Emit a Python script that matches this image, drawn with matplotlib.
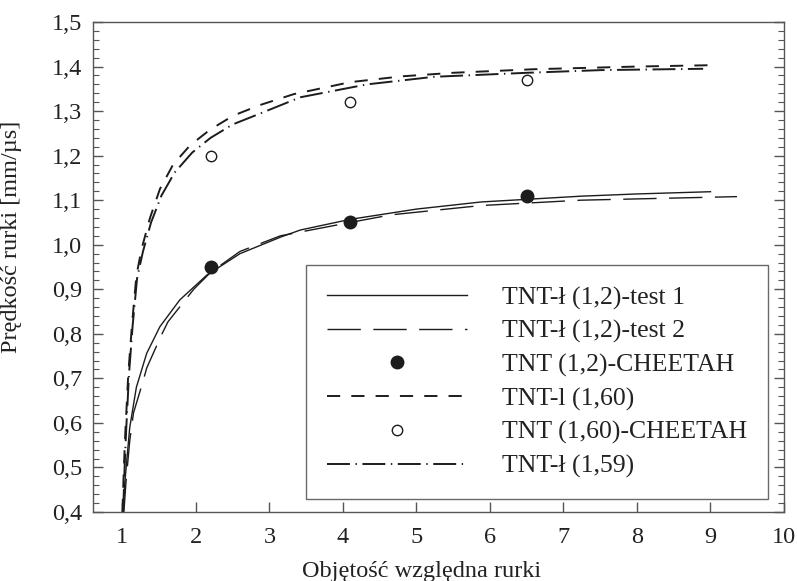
import matplotlib
matplotlib.use("Agg")
import matplotlib.pyplot as plt
import matplotlib.ticker as mtick

# font for all text
plt.rcParams['font.family'] = ['Liberation Serif', 'DejaVu Serif']
plt.rcParams['lines.scale_dashes'] = False

# data
x_test1 = [1.01, 1.03, 1.06, 1.10, 1.19, 1.33, 1.51, 1.78, 2.15, 2.6, 3.15, 3.42,
           4.1, 5.0, 5.88, 6.51, 7.24, 8.0, 9.0]
y_test1 = [0.40, 0.46, 0.517, 0.59, 0.68, 0.756, 0.816, 0.876, 0.932, 0.98, 1.017, 1.033,
           1.057, 1.08, 1.096, 1.102, 1.109, 1.114, 1.119]

x_test2 = [1.02, 1.05, 1.10, 1.15, 1.28, 1.33, 1.53, 1.62, 1.97, 2.2, 2.6, 3.15,
           4.1, 4.65, 5.88, 7.24, 8.3, 9.36]
y_test2 = [0.40, 0.47, 0.56, 0.622, 0.693, 0.723, 0.797, 0.827, 0.90, 0.938, 0.985, 1.02,
           1.05, 1.067, 1.088, 1.10, 1.104, 1.108]

x_cheetah_12 = [2.2, 4.1, 6.5]
y_cheetah_12 = [0.95, 1.05, 1.11]

x_160 = [1.0, 1.02, 1.04, 1.08, 1.13, 1.19, 1.26, 1.375, 1.51, 1.69, 1.92, 2.19, 2.51,
         2.88, 3.33, 4.1, 4.8, 5.5, 6.6, 8.0, 9.0]
y_160 = [0.40, 0.50, 0.58, 0.71, 0.82, 0.93, 0.99, 1.06, 1.125, 1.18, 1.223, 1.258, 1.29,
         1.314, 1.338, 1.365, 1.378, 1.386, 1.394, 1.400, 1.403]

x_cheetah_160 = [2.2, 4.1, 6.5]
y_cheetah_160 = [1.20, 1.32, 1.37]

x_159 = [1.01, 1.03, 1.05, 1.09, 1.14, 1.20, 1.28, 1.39, 1.53, 1.71, 1.95, 2.2, 2.5,
         2.88, 3.42, 4.33, 5.24, 6.51, 7.51, 8.9]
y_159 = [0.40, 0.50, 0.58, 0.71, 0.82, 0.925, 0.985, 1.05, 1.11, 1.162, 1.207, 1.24, 1.27,
         1.295, 1.331, 1.36, 1.377, 1.386, 1.392, 1.395]

labels = ['TNT-ł (1,2)-test 1', 'TNT-ł (1,2)-test 2', 'TNT (1,2)-CHEETAH',
          'TNT-l (1,60)', 'TNT (1,60)-CHEETAH', 'TNT-ł (1,59)']

x_ticks = [1, 2, 3, 4, 5, 6, 7, 8, 9, 10]
y_ticks = [0.4, 0.5, 0.6, 0.7, 0.8, 0.9, 1.0, 1.1, 1.2, 1.3, 1.4, 1.5]

ink = '#1c1c1c'
fs = 17.5       # ticks and axis labels
fs_leg = 18.5   # legend

fig = plt.figure(figsize=(7.97, 5.81), dpi=100)
ax = fig.add_axes([93/797, 1 - 512/581, (784 - 93)/797, (512 - 22)/581])

ax.plot(x_test1, y_test1, color=ink, lw=1.0, label=labels[0])
ax.plot(x_test2, y_test2, color=ink, lw=1.0, dashes=(24, 9), label=labels[1])
ax.plot(x_cheetah_12, y_cheetah_12, 'o', color=ink, ms=9, label=labels[2])
ax.plot(x_160, y_160, color=ink, lw=1.4, dashes=(9.5, 8), label=labels[3])
ax.plot(x_cheetah_160, y_cheetah_160, 'o', mfc='white', mec=ink, mew=1.0, ms=7.5,
        label=labels[4])
ax.plot(x_159, y_159, color=ink, lw=1.4, dashes=(16.5, 4, 1, 4), label=labels[5])

ax.set_xlim(0.6, 10)
ax.set_ylim(0.4, 1.5)

# ticks
ax.xaxis.set_major_locator(mtick.FixedLocator(x_ticks))
ax.yaxis.set_major_locator(mtick.FixedLocator(y_ticks))
ax.yaxis.set_minor_locator(mtick.MultipleLocator(0.02))
ax.yaxis.set_major_formatter(mtick.FuncFormatter(lambda v, p: ('%.1f' % v).replace('.', ',')))
ax.tick_params(axis='both', which='both', direction='in', colors='#555555',
               labelcolor='#222222', labelsize=fs)
ax.tick_params(axis='y', which='major', length=7, width=1, right=True, pad=8)
ax.tick_params(axis='y', which='minor', length=4, width=0.8, right=True)
ax.tick_params(axis='x', which='major', length=7, width=1, pad=11)

for sp in ax.spines.values():
    sp.set_color('#555555')
    sp.set_linewidth(1.0)

ax.set_xlabel('Objętość względna rurki', fontsize=fs, color='#222222')
ax.set_ylabel('Prędkość rurki [mm/µs]', fontsize=fs, color='#222222')
ax.xaxis.set_label_coords(0.475, -0.101)
ax.yaxis.set_label_coords(-0.103, 0.561)

leg = ax.legend(loc='lower right', bbox_to_anchor=(0.977, 0.0265), borderaxespad=0,
                fontsize=fs_leg, frameon=True, fancybox=False, handlelength=5.45,
                handletextpad=1.36, labelspacing=0.4, borderpad=0.82, numpoints=1)
leg.get_frame().set_edgecolor('#444444')
leg.get_frame().set_linewidth(1.0)
for t in leg.get_texts():
    t.set_color('#222222')

fig.savefig('out.png', dpi=100)
